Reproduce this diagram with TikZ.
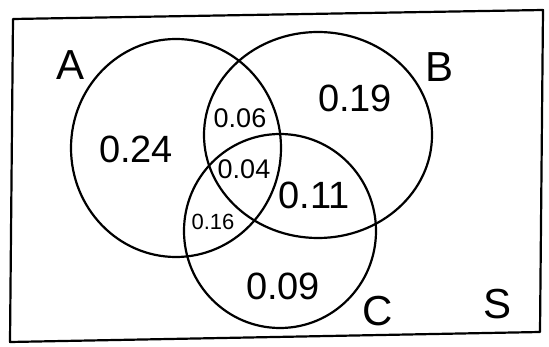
\documentclass[tikz,border=0pt]{standalone}
\usepackage{fontspec}
\setmainfont{Liberation Sans}
\tikzset{
  setline/.style={line width=2.2pt, black, line join=round},
  biglabel/.style={font=\fontsize{42}{42}\selectfont, inner sep=0pt},
  bignum/.style={font=\fontsize{38}{38}\selectfont, inner sep=0pt},
  midnum/.style={font=\fontsize{27}{27}\selectfont, inner sep=0pt},
  smallnum/.style={font=\fontsize{22}{22}\selectfont, inner sep=0pt}
}
\begin{document}
\begin{tikzpicture}[x=1pt,y=-1pt]
\useasboundingbox (0,0) rectangle (549,347);
% sample space
\draw[setline] (13,19) coordinate (s1) -- (543,10) coordinate (s2) -- (540,332) coordinate (s3) -- (10,342) coordinate (s4) -- cycle;
% sets
\draw[setline] (176,148) ellipse [x radius=105, y radius=109];
\draw[setline] (318,135) ellipse [x radius=114, y radius=103];
\draw[setline] (280,231) ellipse [x radius=96, y radius=97];
% set labels
\node[biglabel] (la) at (71,65) {A};
\node[biglabel] (lb) at (440,67) {B};
\node[biglabel] (lc) at (378,311) {C};
\node[biglabel] (ls) at (498,304) {S};
% region values
\node[bignum] (nA) at (136,149) {0.24};
\node[bignum] (nB) at (355,98) {0.19};
\node[midnum] (nAB) at (240,118) {0.06};
\node[midnum] (nABC) at (244,169) {0.04};
\node[bignum] (nBC) at (314,195) {0.11};
\node[smallnum] (nAC) at (213,222) {0.16};
\node[bignum] (nC) at (283,286) {0.09};
\end{tikzpicture}
\end{document}
